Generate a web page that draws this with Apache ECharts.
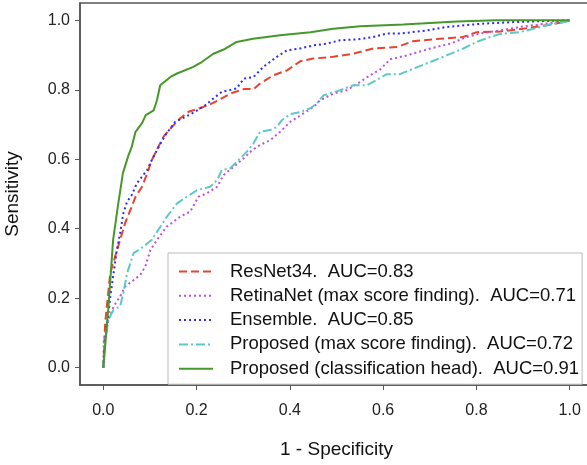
<!DOCTYPE html>
<html>
<head>
<meta charset="utf-8">
<script src="https://cdn.jsdelivr.net/npm/echarts@6/dist/echarts.min.js"></script>
<style>
  html, body { margin: 0; padding: 0; background: #fff; }
  #chart { width: 587px; height: 465px; }
</style>
</head>
<body>
<div id="chart"></div>
<script>
// ROC points [1 - specificity, sensitivity]
const resnet34 = [[0,0],[0.004,0.129],[0.015,0.273],[0.036,0.368],[0.047,0.417],[0.061,0.464],[0.069,0.492],[0.083,0.521],[0.094,0.559],[0.104,0.598],[0.118,0.636],[0.129,0.665],[0.147,0.693],[0.165,0.718],[0.183,0.737],[0.204,0.746],[0.226,0.756],[0.247,0.770],[0.272,0.789],[0.301,0.802],[0.322,0.802],[0.336,0.818],[0.365,0.842],[0.394,0.856],[0.422,0.882],[0.450,0.890],[0.493,0.895],[0.536,0.904],[0.579,0.919],[0.630,0.923],[0.664,0.940],[0.722,0.947],[0.771,0.952],[0.801,0.966],[0.851,0.968],[0.900,0.976],[0.951,0.986],[0.994,0.997],[1,1]];
const retinaNet = [[0,0],[0.001,0.080],[0.011,0.138],[0.022,0.176],[0.036,0.205],[0.047,0.234],[0.061,0.248],[0.079,0.267],[0.090,0.291],[0.101,0.339],[0.115,0.368],[0.136,0.406],[0.165,0.435],[0.186,0.449],[0.204,0.492],[0.222,0.502],[0.244,0.521],[0.258,0.555],[0.279,0.578],[0.301,0.603],[0.319,0.626],[0.336,0.641],[0.358,0.655],[0.379,0.679],[0.401,0.708],[0.429,0.732],[0.451,0.751],[0.465,0.770],[0.493,0.789],[0.522,0.799],[0.551,0.823],[0.572,0.842],[0.594,0.859],[0.615,0.888],[0.651,0.899],[0.701,0.919],[0.744,0.933],[0.779,0.952],[0.808,0.962],[0.851,0.971],[0.893,0.981],[0.951,0.991],[1,1]];
const ensemble = [[0,0],[0.004,0.080],[0.011,0.157],[0.015,0.205],[0.022,0.272],[0.029,0.339],[0.036,0.387],[0.043,0.445],[0.051,0.478],[0.061,0.497],[0.072,0.531],[0.083,0.550],[0.094,0.569],[0.104,0.598],[0.115,0.626],[0.133,0.670],[0.154,0.708],[0.176,0.722],[0.197,0.737],[0.219,0.756],[0.236,0.775],[0.254,0.794],[0.286,0.804],[0.301,0.832],[0.322,0.837],[0.343,0.866],[0.372,0.895],[0.394,0.914],[0.422,0.919],[0.451,0.928],[0.479,0.933],[0.508,0.943],[0.544,0.945],[0.579,0.952],[0.608,0.962],[0.636,0.962],[0.694,0.971],[0.736,0.981],[0.808,0.990],[0.879,0.995],[0.994,1.0],[1,1]];
const proposedMax = [[0,0],[0.004,0.080],[0.011,0.138],[0.022,0.167],[0.036,0.176],[0.043,0.215],[0.051,0.272],[0.058,0.301],[0.065,0.330],[0.076,0.339],[0.090,0.353],[0.104,0.368],[0.115,0.391],[0.136,0.434],[0.158,0.473],[0.179,0.492],[0.201,0.511],[0.229,0.521],[0.244,0.540],[0.254,0.569],[0.272,0.574],[0.294,0.603],[0.308,0.622],[0.322,0.646],[0.336,0.679],[0.358,0.684],[0.372,0.693],[0.383,0.713],[0.401,0.730],[0.422,0.736],[0.444,0.747],[0.458,0.761],[0.472,0.784],[0.508,0.799],[0.536,0.813],[0.565,0.813],[0.586,0.828],[0.608,0.845],[0.636,0.845],[0.665,0.861],[0.701,0.880],[0.736,0.899],[0.772,0.919],[0.801,0.938],[0.829,0.952],[0.851,0.961],[0.893,0.966],[0.922,0.976],[0.951,0.986],[0.994,0.997],[1,1]];
const proposedHead = [[0,0],[0.011,0.175],[0.021,0.368],[0.031,0.463],[0.042,0.560],[0.054,0.612],[0.061,0.636],[0.069,0.679],[0.083,0.704],[0.091,0.727],[0.108,0.741],[0.115,0.770],[0.122,0.813],[0.144,0.837],[0.158,0.847],[0.193,0.866],[0.211,0.880],[0.236,0.904],[0.258,0.916],[0.286,0.938],[0.321,0.947],[0.379,0.957],[0.444,0.966],[0.493,0.976],[0.551,0.983],[0.643,0.988],[0.758,0.997],[0.843,1.0],[1,1]];

const seriesNames = [
  'ResNet34.  AUC=0.83',
  'RetinaNet (max score finding).  AUC=0.71',
  'Ensemble.  AUC=0.85',
  'Proposed (max score finding).  AUC=0.72',
  'Proposed (classification head).  AUC=0.91'
];
const xTicks = [0, 0.2, 0.4, 0.6, 0.8, 1.0];
const yTicks = [0, 0.2, 0.4, 0.6, 0.8, 1.0];

let myChart = echarts.init(document.getElementById('chart'));
const font = 'Liberation Sans, Arial, sans-serif';

function rocLine(name, data, color, dash) {
  return {
    name: name,
    type: 'line',
    data: data,
    symbol: 'none',
    animation: false,
    lineStyle: { color: color, width: 2, type: dash },
    itemStyle: { color: color }
  };
}

let options = {
  backgroundColor: '#fff',
  grid: {
    left: 80, top: 3, width: 513, height: 382,
    outerBoundsMode: 'none', containLabel: false, // the right spine runs off the picture
    show: true, borderColor: '#555', borderWidth: 1.5, backgroundColor: 'transparent'
  },
  legend: {
    orient: 'vertical',
    left: 168, top: 253,
    padding: [9, 3, 6, 10],
    itemWidth: 34, itemHeight: 14, itemGap: 5.3,
    backgroundColor: '#fff',
    borderColor: '#bbb', borderWidth: 1,
    itemStyle: { opacity: 0 }, // hide the marker, keep the line sample
    textStyle: { fontFamily: font, fontSize: 18.5, color: '#111', padding: [0, 0, 0, 12] },
    data: seriesNames
  },
  xAxis: {
    type: 'value', min: -0.05, max: 1.05,
    name: '1 - Specificity', nameLocation: 'middle', nameGap: 55,
    nameTextStyle: { fontFamily: font, fontSize: 19, color: '#111' },
    axisLine: { show: true, onZero: false, lineStyle: { color: '#555', width: 1.5 } },
    axisTick: { show: true, length: 5, customValues: xTicks, lineStyle: { color: '#555' } },
    axisLabel: { customValues: xTicks, margin: 18, fontFamily: font, fontSize: 16, color: '#222',
      formatter: v => v.toFixed(1) },
    splitLine: { show: false }
  },
  yAxis: {
    type: 'value', min: -0.05, max: 1.05,
    name: 'Sensitivity', nameLocation: 'middle', nameGap: 58,
    nameTextStyle: { fontFamily: font, fontSize: 19, color: '#111' },
    axisLine: { show: true, onZero: false, lineStyle: { color: '#555', width: 1.5 } },
    axisTick: { show: true, length: 5, customValues: yTicks, lineStyle: { color: '#555' } },
    axisLabel: { customValues: yTicks, margin: 10, fontFamily: font, fontSize: 16, color: '#222',
      formatter: v => v.toFixed(1) },
    splitLine: { show: false }
  },
  series: [
    rocLine(seriesNames[0], resnet34, '#e8432e', [8, 4]),
    rocLine(seriesNames[1], retinaNet, '#bf4fdf', [2, 3]),
    rocLine(seriesNames[2], ensemble, '#2a2aff', [2, 3]),
    rocLine(seriesNames[3], proposedMax, '#5cc8c8', [9, 3, 2, 3]),
    rocLine(seriesNames[4], proposedHead, '#46982a', 'solid')
  ]
};
myChart.setOption(options);
</script>
</body>
</html>
